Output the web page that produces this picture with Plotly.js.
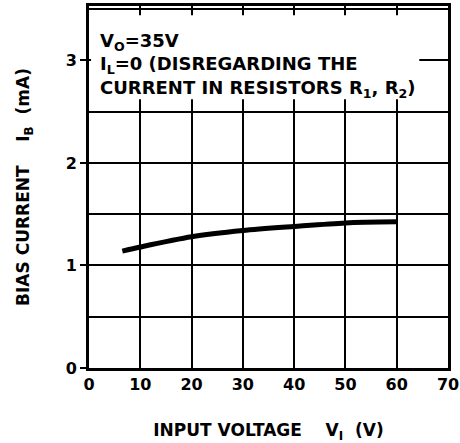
<!DOCTYPE html>
<html>
<head>
<meta charset="utf-8">
<script src="https://cdn.plot.ly/plotly-3.0.1.min.js"></script>
<style>html,body{margin:0;padding:0;background:#fff;}#chart{width:460px;height:443px;}</style>
</head>
<body>
<div id="chart"></div>
<script>
// Data
const inputVoltage = [6.5, 10, 20, 30, 40, 50, 60];
const biasCurrent = [1.14, 1.18, 1.28, 1.34, 1.38, 1.415, 1.425];
const xTickVals = [0, 10, 20, 30, 40, 50, 60, 70];
const yTickVals = [0, 1, 2, 3];
const noteText = 'V<sub>O</sub>=35V<br>I<sub>L</sub>=0 (DISREGARDING THE<br>CURRENT IN RESISTORS R<sub>1</sub>, R<sub>2</sub>)';
const xTitle = 'INPUT VOLTAGE\u00a0\u00a0\u00a0\u00a0V<sub>I</sub>\u00a0\u00a0(V)';
const yTitle = 'BIAS CURRENT\u00a0\u00a0\u00a0\u00a0I<sub>B</sub>\u00a0\u00a0(mA)';

const FONT = 'DejaVu Sans, Liberation Sans, sans-serif';

const trace = {
  x: inputVoltage,
  y: biasCurrent,
  type: 'scatter',
  mode: 'lines',
  line: {color: '#000', width: 5, shape: 'spline', smoothing: 0.8},
  hoverinfo: 'skip'
};

const layout = {
  width: 460,
  height: 443,
  margin: {l: 89, r: 12, t: 6, b: 75},
  paper_bgcolor: '#fff',
  plot_bgcolor: '#fff',
  showlegend: false,
  font: {family: FONT, color: '#000'},
  xaxis: {
    range: [0, 70],
    tickvals: xTickVals,
    ticktext: xTickVals.map(String),
    ticks: '',
    showgrid: true,
    gridcolor: '#000',
    gridwidth: 2,
    zeroline: false,
    showline: true,
    linecolor: '#000',
    linewidth: 3,
    mirror: true,
    tickfont: {family: FONT, size: 16, color: '#000', weight: 'bold'},
    title: {text: xTitle, font: {family: FONT, size: 17, color: '#000', weight: 'bold'}, standoff: 33}
  },
  yaxis: {
    range: [0, 3.53],
    tickvals: yTickVals,
    ticktext: yTickVals.map(String),
    ticks: 'outside',
    ticklen: 6,
    tickwidth: 2,
    tickcolor: '#000',
    showgrid: true,
    gridcolor: '#000',
    gridwidth: 2,
    minor: {dtick: 0.5, tick0: 0, showgrid: true, gridcolor: '#000', gridwidth: 2, ticks: ''},
    zeroline: false,
    showline: true,
    linecolor: '#000',
    linewidth: 3,
    mirror: true,
    tickfont: {family: FONT, size: 16, color: '#000', weight: 'bold'},
    title: {text: yTitle, font: {family: FONT, size: 17, color: '#000', weight: 'bold'}, standoff: 32}
  },
  shapes: [{
    type: 'rect', xref: 'x', yref: 'y',
    x0: 0.4, x1: 64.4, y0: 2.62, y1: 3.44,
    fillcolor: '#fff', line: {width: 0}, layer: 'between'
  }],
  annotations: [{
    xref: 'x', yref: 'y', x: 1.8, y: 3.32,
    xanchor: 'left', yanchor: 'top', align: 'left',
    showarrow: false,
    text: noteText,
    font: {family: FONT, size: 18, color: '#000', weight: 'bold'}
  }]
};

Plotly.newPlot('chart', [trace], layout, {displayModeBar: false, staticPlot: true});
</script>
</body>
</html>
